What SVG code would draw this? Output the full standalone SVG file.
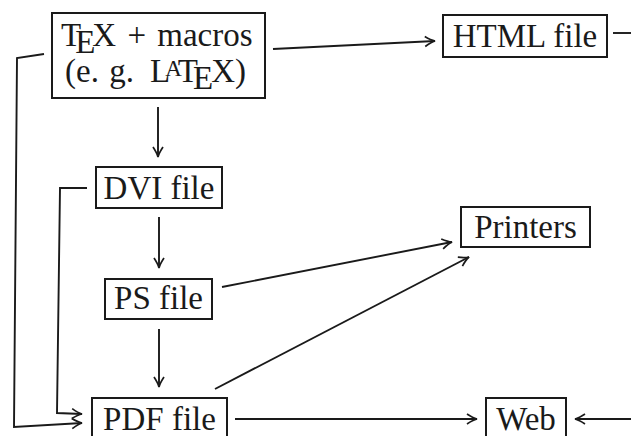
<svg xmlns="http://www.w3.org/2000/svg" width="631" height="436" viewBox="0 0 631 436">
<defs>
<style>
.box{fill:#fff;stroke:#1a1a1a;stroke-width:2}
.lbl{font-family:"Liberation Serif",serif;font-size:33px;fill:#1a1a1a}
.c{text-anchor:middle}
.ln{fill:none;stroke:#1a1a1a;stroke-width:1.9}
.arr{marker-end:url(#ah)}
</style>
<marker id="ah" markerUnits="userSpaceOnUse" viewBox="-10 -6 12 12" refX="0" refY="0" markerWidth="12" markerHeight="12" orient="auto" overflow="visible">
<path d="M-10,-5 Q-4,-1 0,0 Q-4,1 -10,5" fill="none" stroke="#1a1a1a" stroke-width="1.7"/>
</marker>
</defs>
<rect width="631" height="436" fill="#fff"/>
<g id="connectors">
<path class="ln arr" d="M273,49 L435,41"/>
<path class="ln" d="M613,33 L631,33"/>
<path class="ln arr" d="M158,107 L158,157"/>
<path class="ln arr" d="M159,217 L159,268"/>
<path class="ln arr" d="M159,329 L159,387"/>
<path class="ln arr" d="M222,287 L452,242"/>
<path class="ln arr" d="M215,389 L469,257"/>
<path class="ln arr" d="M235,419 L477,419"/>
<path class="ln arr" d="M631,419 L575,419"/>
<path class="ln arr" d="M44,54 L17,58 L14,427 L82,423"/>
<path class="ln arr" d="M87,188 L60,188 L57,413 L82,414"/>
</g>
<g id="tex">
<rect class="box" x="52" y="13" width="213" height="85"/>
<text class="lbl" x="61" y="46" word-spacing="3"><tspan>T</tspan><tspan dx="-6" dy="7">E</tspan><tspan dx="-3" dy="-7">X</tspan> + macros</text>
<text class="lbl" x="65" y="82" word-spacing="2">(e. g. <tspan x="150">L</tspan><tspan dx="-5" dy="-6" font-size="23">A</tspan><tspan dx="-4" dy="6">T</tspan><tspan dx="-5" dy="7">E</tspan><tspan dx="-2" dy="-7">X</tspan>)</text>
</g>
<g id="html">
<rect class="box" x="443" y="15" width="164" height="42"/>
<text class="lbl c" x="525" y="47">HTML file</text>
</g>
<g id="dvi">
<rect class="box" x="96" y="167" width="126" height="41"/>
<text class="lbl c" x="159" y="199">DVI file</text>
</g>
<g id="ps">
<rect class="box" x="105" y="279" width="107" height="40"/>
<text class="lbl c" x="158.5" y="309">PS file</text>
</g>
<g id="printers">
<rect class="box" x="461" y="207" width="129" height="40"/>
<text class="lbl c" x="525.5" y="238">Printers</text>
</g>
<g id="pdf">
<rect class="box" x="92" y="398" width="135" height="46"/>
<text class="lbl c" x="159.5" y="430">PDF file</text>
</g>
<g id="web">
<rect class="box" x="486" y="398" width="80" height="46"/>
<text class="lbl c" x="526" y="430">Web</text>
</g>
</svg>
